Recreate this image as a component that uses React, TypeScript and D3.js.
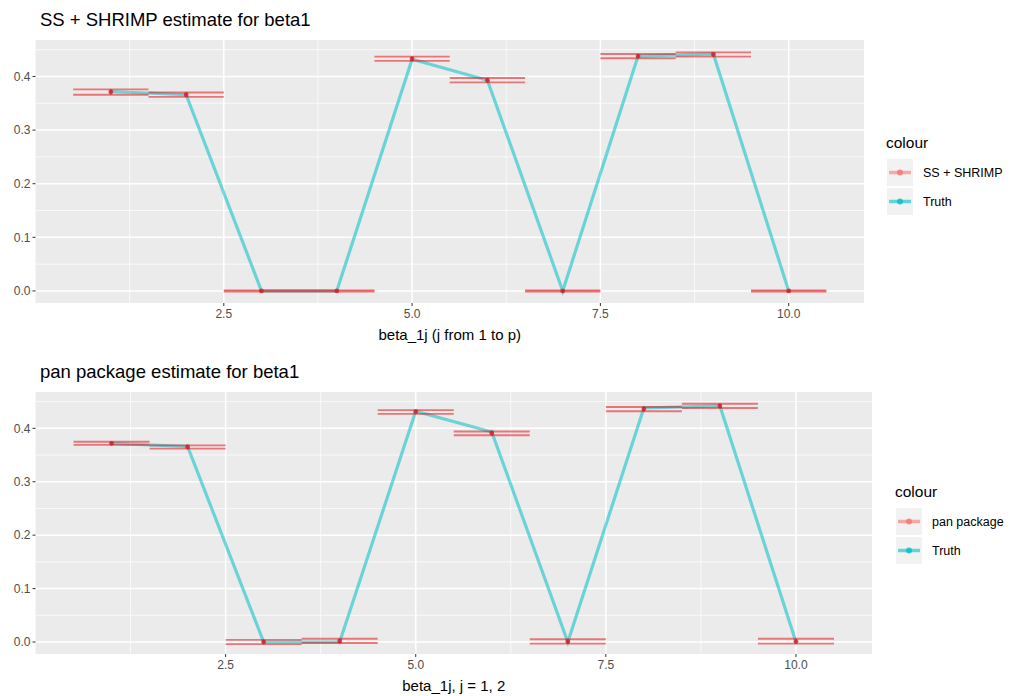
import React from "react";
import * as d3 from "d3";

// positions j = 1..10
const jIndex = [1, 2, 3, 4, 5, 6, 7, 8, 9, 10];
const truth = [0.372, 0.366, 0, 0, 0.432, 0.393, 0, 0.438, 0.442, 0];

// SS + SHRIMP estimate (point, lower, upper)
const ssEst = [0.371, 0.366, 0, 0, 0.433, 0.393, 0, 0.438, 0.441, 0];
const ssLow = [0.366, 0.362, -0.001, -0.001, 0.429, 0.389, -0.001, 0.434, 0.437, -0.001];
const ssHigh = [0.376, 0.37, 0.001, 0.001, 0.437, 0.397, 0.001, 0.442, 0.445, 0.001];

// pan package estimate
const panEst = [0.372, 0.365, 0, 0.002, 0.431, 0.391, 0.001, 0.436, 0.442, 0.001];
const panLow = [0.369, 0.362, -0.004, -0.002, 0.427, 0.387, -0.003, 0.432, 0.438, -0.003];
const panHigh = [0.375, 0.368, 0.004, 0.006, 0.434, 0.394, 0.005, 0.44, 0.446, 0.006];

const yTicks = [0, 0.1, 0.2, 0.3, 0.4];
const yMinor = [0.05, 0.15, 0.25, 0.35, 0.45];
const xTicks = [2.5, 5, 7.5, 10];
const xMinor = [1.25, 3.75, 6.25, 8.75];

const TEAL = "#00BFC4";
const PINK = "#F8766D";
const FONT = "'Liberation Sans', Arial, Helvetica, sans-serif";

type PanelProps = {
  title: string;
  xTitle: string;
  estLabel: string;
  est: number[];
  low: number[];
  high: number[];
  top: number;
  bottom: number;
  right: number;
  legendX: number;
  legendY: number;
};

const Panel = ({ title, xTitle, estLabel, est, low, high, top, bottom, right, legendX, legendY }: PanelProps) => {
  const left = 35.5;
  const x = d3.scaleLinear().domain([0, 11]).range([left, right]);
  const y = d3.scaleLinear().domain([-0.0225, 0.468]).range([bottom, top]);
  const line = d3
    .line<number>()
    .x((_, i) => x(jIndex[i]))
    .y((d) => y(d));

  return (
    <g>
      <text x={40} y={top - 14} fontSize={18.5} fill="#000">
        {title}
      </text>
      <rect x={left} y={top} width={right - left} height={bottom - top} fill="#EBEBEB" />
      {yMinor.map((v) => (
        <line key={"ym" + v} x1={left} x2={right} y1={y(v)} y2={y(v)} stroke="#fff" strokeWidth={0.7} />
      ))}
      {xMinor.map((v) => (
        <line key={"xm" + v} x1={x(v)} x2={x(v)} y1={top} y2={bottom} stroke="#fff" strokeWidth={0.7} />
      ))}
      {yTicks.map((v) => (
        <line key={"yM" + v} x1={left} x2={right} y1={y(v)} y2={y(v)} stroke="#fff" strokeWidth={1.5} />
      ))}
      {xTicks.map((v) => (
        <line key={"xM" + v} x1={x(v)} x2={x(v)} y1={top} y2={bottom} stroke="#fff" strokeWidth={1.5} />
      ))}

      {/* truth line */}
      <path d={line(truth) ?? ""} fill="none" stroke={TEAL} strokeOpacity={0.55} strokeWidth={3.2} />
      {truth.map((v, i) => (
        <circle key={"tp" + i} cx={x(jIndex[i])} cy={y(v)} r={2.2} fill={TEAL} fillOpacity={0.5} />
      ))}

      {/* estimate error bars */}
      {est.map((v, i) => {
        const x0 = x(jIndex[i] - 0.5);
        const x1 = x(jIndex[i] + 0.5);
        return (
          <g key={"eb" + i} stroke="#e8141c" strokeOpacity={0.55} strokeWidth={1.9} fill="none">
            <line x1={x0} x2={x1} y1={y(low[i])} y2={y(low[i])} />
            <line x1={x0} x2={x1} y1={y(high[i])} y2={y(high[i])} />
            <line x1={x(jIndex[i])} x2={x(jIndex[i])} y1={y(low[i])} y2={y(high[i])} />
          </g>
        );
      })}
      {est.map((v, i) => (
        <circle key={"ep" + i} cx={x(jIndex[i])} cy={y(v)} r={2.4} fill="#e8141c" fillOpacity={0.7} />
      ))}

      {/* axes ticks & labels */}
      {yTicks.map((v) => (
        <g key={"yl" + v}>
          <line x1={left - 3} x2={left} y1={y(v)} y2={y(v)} stroke="#333" strokeWidth={1} />
          <text x={left - 5} y={y(v)} dy="0.35em" textAnchor="end" fontSize={12} fill="#4D4D4D">
            {d3.format(".1f")(v)}
          </text>
        </g>
      ))}
      {xTicks.map((v) => (
        <g key={"xl" + v}>
          <line x1={x(v)} x2={x(v)} y1={bottom} y2={bottom + 3} stroke="#333" strokeWidth={1} />
          <text x={x(v)} y={bottom + 15} textAnchor="middle" fontSize={12} fill="#4D4D4D">
            {d3.format(".1f")(v)}
          </text>
        </g>
      ))}
      <text x={(left + right) / 2} y={bottom + 37} textAnchor="middle" fontSize={15} fill="#000">
        {xTitle}
      </text>

      {/* legend */}
      <g transform={`translate(${legendX},${legendY})`}>
        <text x={0} y={0} fontSize={15.5} fill="#000">
          colour
        </text>
        {[
          { label: estLabel, color: PINK },
          { label: "Truth", color: TEAL },
        ].map((d, i) => (
          <g key={d.label} transform={`translate(1,${11 + i * 29})`}>
            <rect width={26} height={27} fill="#F2F2F2" />
            <line x1={2} x2={24} y1={13.5} y2={13.5} stroke={d.color} strokeOpacity={0.6} strokeWidth={3.5} />
            <circle cx={13} cy={13.5} r={3} fill={d.color} fillOpacity={0.8} />
            <text x={36} y={13.5} dy="0.35em" fontSize={12.5} fill="#000">
              {d.label}
            </text>
          </g>
        ))}
      </g>
    </g>
  );
};

export default function App() {
  return (
    <svg
      width={1016}
      height={696}
      style={{ display: "block", position: "absolute", left: 0, top: 0 }}
      fontFamily={FONT}
    >
      <rect width={1016} height={696} fill="#fff" />
      <Panel
        title="SS + SHRIMP estimate for beta1"
        xTitle="beta_1j (j from 1 to p)"
        estLabel="SS + SHRIMP"
        est={ssEst}
        low={ssLow}
        high={ssHigh}
        top={40}
        bottom={303}
        right={864}
        legendX={886}
        legendY={148}
      />
      <Panel
        title="pan package estimate for beta1"
        xTitle="beta_1j, j = 1, 2"
        estLabel="pan package"
        est={panEst}
        low={panLow}
        high={panHigh}
        top={392}
        bottom={654}
        right={872}
        legendX={895}
        legendY={497}
      />
    </svg>
  );
}
